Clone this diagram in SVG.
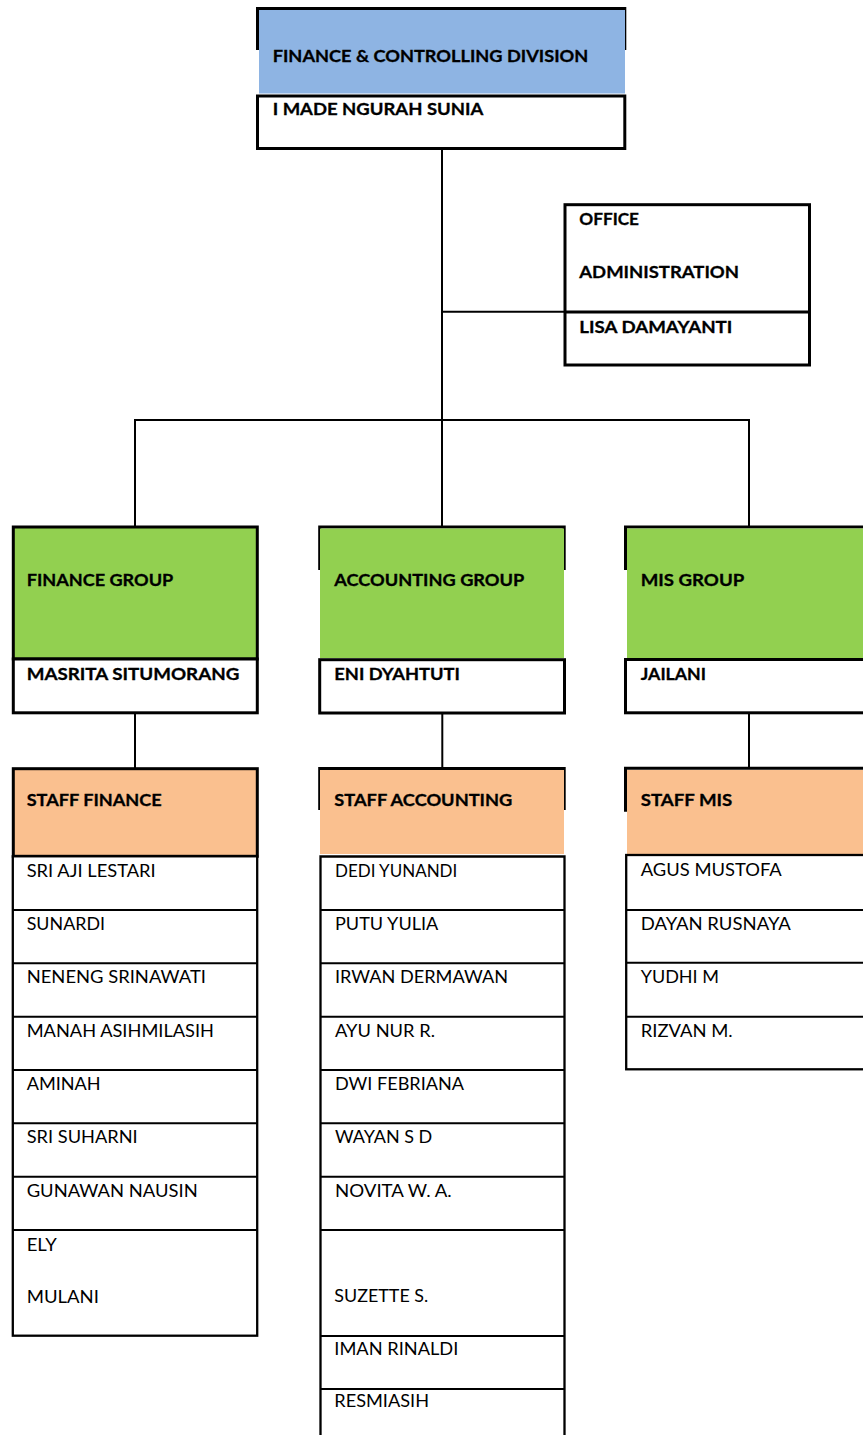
<svg xmlns="http://www.w3.org/2000/svg" width="863" height="1435" viewBox="0 0 863 1435">
<style>
  text { font-family: Lato, "Liberation Sans", sans-serif; font-size: 17px; fill: #000; }
  .b { font-weight: bold; stroke: #000; stroke-width: 0.3; }
  .bd { fill: none; stroke: #000; stroke-width: 3; }
  .bx { fill: #fff; stroke: #000; stroke-width: 3; }
  .ls { fill: #fff; stroke: #000; stroke-width: 2.3; }
  .dv { fill: none; stroke: #000; stroke-width: 2; }
  .blue { fill: #8EB4E3; }
  .green { fill: #92D050; }
  .orange { fill: #FAC08F; }
  .cn { fill: none; stroke: #000; stroke-width: 2; }
</style>
<rect width="863" height="1435" fill="#fff"/>

<g id="connectors">
  <path class="cn" d="M442 150 V420"/>
  <path class="cn" d="M442 311.7 H565"/>
  <path class="cn" d="M135 527 V420 H749 V527"/>
  <path class="cn" d="M442 420 V527"/>
  <path class="cn" d="M135 714 V768"/>
  <path class="cn" d="M442.3 714 V768"/>
  <path class="cn" d="M749 714 V768"/>
</g>

<g id="finance-controlling-division">
  <path class="bd" d="M256 8.4 H626.3 M257.5 7 V50 M624.8 7 V50"/>
  <rect class="blue" x="259" y="10" width="366" height="83.5"/>
  <rect class="bx" x="257.5" y="96" width="367.3" height="52.5"/>
  <text class="b" x="272.7" y="61.7" textLength="315.6" lengthAdjust="spacingAndGlyphs">FINANCE &amp; CONTROLLING DIVISION</text>
  <text class="b" x="272.7" y="115" textLength="210.6" lengthAdjust="spacingAndGlyphs">I MADE NGURAH SUNIA</text>
</g>

<g id="office-administration">
  <rect class="bx" x="565" y="204.7" width="244.5" height="160.3"/>
  <path class="bd" d="M565 312 H809.5"/>
  <text class="b" x="579.3" y="225" textLength="59.7" lengthAdjust="spacingAndGlyphs">OFFICE</text>
  <text class="b" x="579.3" y="277.7" textLength="159.7" lengthAdjust="spacingAndGlyphs">ADMINISTRATION</text>
  <text class="b" x="579.3" y="333.3" textLength="153" lengthAdjust="spacingAndGlyphs">LISA DAMAYANTI</text>
</g>

<g id="finance-group">
  <rect class="bd" style="fill:#92D050" x="13.3" y="527" width="244" height="132"/>
  <rect class="bx" x="13.3" y="659" width="244" height="53.8"/>
  <text class="b" x="26.7" y="585.7" textLength="146.6" lengthAdjust="spacingAndGlyphs">FINANCE GROUP</text>
  <text class="b" x="26.7" y="680" textLength="212.6" lengthAdjust="spacingAndGlyphs">MASRITA SITUMORANG</text>
</g>

<g id="accounting-group">
  <path class="bd" d="M318.2 527 H565.7 M319.7 525.5 V570 M564.2 525.5 V570"/>
  <rect class="green" x="320" y="528.5" width="244" height="129.5"/>
  <rect class="bx" x="319.7" y="659.7" width="244.8" height="53.3"/>
  <text class="b" x="334.3" y="585.7" textLength="190" lengthAdjust="spacingAndGlyphs">ACCOUNTING GROUP</text>
  <text class="b" x="334.3" y="680" textLength="125.7" lengthAdjust="spacingAndGlyphs">ENI DYAHTUTI</text>
</g>

<g id="mis-group">
  <path class="bd" d="M624 527 H866 M625.5 525.5 V570"/>
  <rect class="green" x="627" y="528.5" width="240" height="129.5"/>
  <rect class="bx" x="625.5" y="659.5" width="250" height="53.3"/>
  <text class="b" x="640.7" y="585.7" textLength="103.6" lengthAdjust="spacingAndGlyphs">MIS GROUP</text>
  <text class="b" x="640.7" y="680" textLength="65.3" lengthAdjust="spacingAndGlyphs">JAILANI</text>
</g>

<g id="staff-finance">
  <rect class="bd" style="fill:#FAC08F" x="13.3" y="768.7" width="244" height="87.6"/>
  <rect class="ls" x="12.8" y="856.3" width="244.4" height="479.4"/>
  <path class="dv" d="M12.8 910 H257.2 M12.8 963.3 H257.2 M12.8 1016.7 H257.2 M12.8 1070 H257.2 M12.8 1123.3 H257.2 M12.8 1176.7 H257.2 M12.8 1230 H257.2"/>
  <text class="b" x="26.7" y="805.7" textLength="135" lengthAdjust="spacingAndGlyphs">STAFF FINANCE</text>
  <text x="26.7" y="876.7" textLength="129" lengthAdjust="spacingAndGlyphs">SRI AJI LESTARI</text>
  <text x="26.7" y="930" textLength="78.3" lengthAdjust="spacingAndGlyphs">SUNARDI</text>
  <text x="26.7" y="983.3" textLength="179.3" lengthAdjust="spacingAndGlyphs">NENENG SRINAWATI</text>
  <text x="26.7" y="1036.7" textLength="187.3" lengthAdjust="spacingAndGlyphs">MANAH ASIHMILASIH</text>
  <text x="26.7" y="1090" textLength="74" lengthAdjust="spacingAndGlyphs">AMINAH</text>
  <text x="26.7" y="1143.3" textLength="111" lengthAdjust="spacingAndGlyphs">SRI SUHARNI</text>
  <text x="26.7" y="1196.7" textLength="171" lengthAdjust="spacingAndGlyphs">GUNAWAN NAUSIN</text>
  <text x="26.7" y="1250.7" textLength="30" lengthAdjust="spacingAndGlyphs">ELY</text>
  <text x="26.7" y="1302.7" textLength="72.3" lengthAdjust="spacingAndGlyphs">MULANI</text>
</g>

<g id="staff-accounting">
  <path class="bd" d="M318.2 768.5 H565.7 M319.7 767 V810 M564.2 767 V810"/>
  <rect class="orange" x="320" y="770" width="244" height="84"/>
  <path class="ls" style="fill:none" d="M320.5 1437 V856.5 H564.5 V1437"/>
  <path class="dv" d="M320.5 910 H564.5 M320.5 963.3 H564.5 M320.5 1016.7 H564.5 M320.5 1070 H564.5 M320.5 1123.3 H564.5 M320.5 1176.7 H564.5 M320.5 1230 H564.5 M320.5 1336 H564.5 M320.5 1389 H564.5"/>
  <text class="b" x="334.3" y="805.7" textLength="178" lengthAdjust="spacingAndGlyphs">STAFF ACCOUNTING</text>
  <text x="335" y="876.7" textLength="122.3" lengthAdjust="spacingAndGlyphs">DEDI YUNANDI</text>
  <text x="335" y="930" textLength="103.3" lengthAdjust="spacingAndGlyphs">PUTU YULIA</text>
  <text x="335" y="983.3" textLength="173" lengthAdjust="spacingAndGlyphs">IRWAN DERMAWAN</text>
  <text x="335" y="1036.7" textLength="100" lengthAdjust="spacingAndGlyphs">AYU NUR R.</text>
  <text x="335" y="1090" textLength="129" lengthAdjust="spacingAndGlyphs">DWI FEBRIANA</text>
  <text x="335" y="1143.3" textLength="97.3" lengthAdjust="spacingAndGlyphs">WAYAN S D</text>
  <text x="335" y="1196.7" textLength="116.7" lengthAdjust="spacingAndGlyphs">NOVITA W. A.</text>
  <text x="334.3" y="1301.7" textLength="94" lengthAdjust="spacingAndGlyphs">SUZETTE S.</text>
  <text x="334.3" y="1355" textLength="124" lengthAdjust="spacingAndGlyphs">IMAN RINALDI</text>
  <text x="334.3" y="1406.7" textLength="94.7" lengthAdjust="spacingAndGlyphs">RESMIASIH</text>
</g>

<g id="staff-mis">
  <path class="bd" d="M624 768.3 H866 M625.5 767 V811.7"/>
  <rect class="orange" x="627" y="770" width="240" height="84"/>
  <rect class="ls" x="626.2" y="855" width="250" height="214.3"/>
  <path class="dv" d="M626.2 910 H866 M626.2 962.7 H866 M626.2 1016.7 H866"/>
  <text class="b" x="640.7" y="805.7" textLength="91.6" lengthAdjust="spacingAndGlyphs">STAFF MIS</text>
  <text x="640.7" y="876" textLength="141" lengthAdjust="spacingAndGlyphs">AGUS MUSTOFA</text>
  <text x="640.7" y="930" textLength="150" lengthAdjust="spacingAndGlyphs">DAYAN RUSNAYA</text>
  <text x="640.7" y="983.3" textLength="78.3" lengthAdjust="spacingAndGlyphs">YUDHI M</text>
  <text x="640.7" y="1036.7" textLength="92" lengthAdjust="spacingAndGlyphs">RIZVAN M.</text>
</g>
</svg>
